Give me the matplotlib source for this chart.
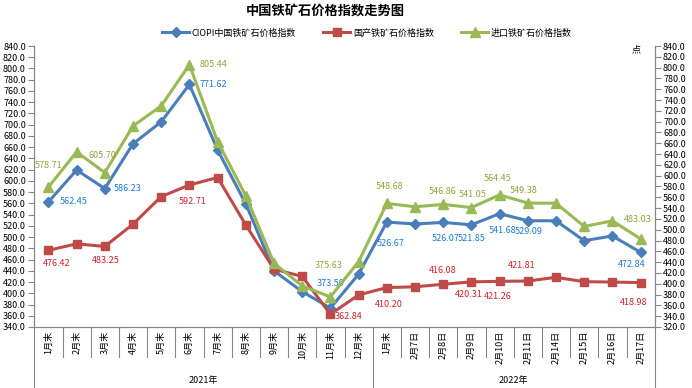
import matplotlib
matplotlib.use("Agg")
import matplotlib.pyplot as plt
import matplotlib.transforms as mtransforms
from matplotlib.lines import Line2D

plt.rcParams['font.family'] = ['Noto Sans CJK SC', 'DejaVu Sans']

# categories (two-level x axis)
months_2021 = ['1月末', '2月末', '3月末', '4月末', '5月末', '6月末',
               '7月末', '8月末', '9月末', '10月末', '11月末', '12月末']
days_2022 = ['1月末', '2月7日', '2月8日', '2月9日', '2月10日', '2月11日',
             '2月14日', '2月15日', '2月16日', '2月17日']
groups = ['2021年', '2022年']
categories = months_2021 + days_2022

# index values (points)
ciopi = [562.45, 619.4, 586.23, 666.0, 705.0, 771.62, 655.0, 559.0, 440.0, 403.0, 373.59, 434.0,
         526.67, 523.3, 526.07, 521.85, 541.68, 529.09, 529.0, 493.6, 502.0, 472.84]
domestic = [476.42, 488.0, 483.25, 523.0, 572.0, 592.71, 606.0, 521.5, 443.0, 430.0, 362.84, 397.0,
            410.20, 411.5, 416.08, 420.31, 421.26, 421.81, 428.4, 420.6, 420.0, 418.98]
imported = [578.71, 644.0, 605.70, 692.0, 729.0, 805.44, 663.0, 563.0, 438.0, 396.0, 375.63, 441.0,
            548.68, 542.5, 546.86, 541.05, 564.45, 549.38, 549.0, 506.0, 516.5, 483.03]

series_names = ['CIOPI中国铁矿石价格指数', '国产铁矿石价格指数', '进口铁矿石价格指数']

# which points carry a data label
ciopi_labeled = [0, 2, 5, 10, 12, 14, 15, 16, 17, 21]
domestic_labeled = [0, 2, 5, 10, 12, 14, 15, 16, 17, 21]
imported_labeled = [0, 2, 5, 10, 12, 14, 15, 16, 17, 21]

# label offsets in pixels (dx right, dy up)
ciopi_off = [(25, 0), (23, 0), (24, 0), (0, 25), (4, -21), (2, -16), (0, -14), (3, -17), (1, -11), (-9, -12)]
domestic_off = [(8, -13), (1, -14), (3, -17), (18, -2), (2, -17), (-1, 14), (-3, -13), (-2, -15), (-6, 16), (-7, -20)]
imported_off = [(0, 22), (-2, 17), (24, 0), (-2, 31), (3, 17), (-1, 13), (1, 13), (-2, 16), (-4, 13), (-3, 19)]

W, H = 692, 388
fig = plt.figure(figsize=(W / 100, H / 100), dpi=100)
x0, x1, y_top, y_bot = 34.3, 654.7, 46, 327
ax = fig.add_axes([x0 / W, 1 - y_bot / H, (x1 - x0) / W, (y_bot - y_top) / H])
ax2 = ax.twinx()

xs = [i + 0.5 for i in range(len(categories))]
c_blue, c_red, c_green = '#4A7EBB', '#BE4B48', '#98B954'
t_blue, t_red, t_green = '#1E7BD0', '#D2202E', '#97A03A'

ax.plot(xs, ciopi, color=c_blue, lw=2.2, marker='D', ms=5, zorder=3, label=series_names[0])
ax.plot(xs, domestic, color=c_red, lw=2.2, marker='s', ms=6, zorder=3, label=series_names[1])
ax2.plot(xs, imported, color=c_green, lw=2.2, marker='^', ms=7, zorder=3, label=series_names[2])


def put_labels(axis, values, idx, offs, color):
    for i, (dx, dy) in zip(idx, offs):
        axis.annotate(f'{values[i]:.2f}', (xs[i], values[i]), xytext=(dx * 0.72, dy * 0.72),
                      textcoords='offset points', ha='center', va='center',
                      fontsize=6.5, color=color, zorder=5)


put_labels(ax, ciopi, ciopi_labeled, ciopi_off, t_blue)
put_labels(ax, domestic, domestic_labeled, domestic_off, t_red)
put_labels(ax2, imported, imported_labeled, imported_off, t_green)

grey = '#868686'
ax.set_xlim(0, len(categories))
ax.set_ylim(340, 840)
ax2.set_ylim(320, 840)
ax.set_yticks(range(340, 841, 20))
ax2.set_yticks(range(320, 841, 20))
ax.set_yticklabels([f'{v:.1f}' for v in range(340, 841, 20)])
ax2.set_yticklabels([f'{v:.1f}' for v in range(320, 841, 20)])
ax.set_xticks([])
for a in (ax, ax2):
    a.tick_params(axis='y', direction='out', length=4, width=0.8, color=grey,
                  labelsize=6.5, pad=2)
    a.spines['top'].set_visible(False)
    for s in ('left', 'right', 'bottom'):
        a.spines[s].set_color(grey)
        a.spines[s].set_linewidth(0.8)
ax.patch.set_visible(False)

# two-level category axis
trans = mtransforms.blended_transform_factory(ax.transData, fig.transFigure)
for i in range(len(categories) + 1):
    long_line = i in (0, len(months_2021), len(categories))
    y_end = 0 if long_line else 1 - 357 / H
    fig.add_artist(Line2D([i, i], [1 - y_bot / H, y_end], transform=trans,
                          color=grey, lw=0.8))
for x, lab in zip(xs, categories):
    fig.text(x, 1 - 331 / H, lab, transform=trans, rotation=90, ha='center', va='top',
             fontsize=6.5)
fig.text(len(months_2021) / 2, 1 - 380 / H, groups[0], transform=trans,
         ha='center', va='center', fontsize=6.5)
fig.text(len(months_2021) + len(days_2022) / 2, 1 - 380 / H, groups[1], transform=trans,
         ha='center', va='center', fontsize=6.5)

fig.text(325 / W, 1 - 12 / H, '中国铁矿石价格指数走势图', ha='center', va='center',
         fontsize=9.5, fontweight='bold')
fig.text(636 / W, 1 - 50 / H, '点', ha='center', va='center', fontsize=6.5)

handles = ax.get_lines()[:2] + ax2.get_lines()[:1]
fig.legend(handles, series_names, loc='center', bbox_to_anchor=(367 / W, 1 - 33 / H),
           ncol=3, frameon=False, fontsize=6.5, handlelength=3, columnspacing=3,
           handletextpad=0.3)

fig.savefig('out.png', dpi=100)
